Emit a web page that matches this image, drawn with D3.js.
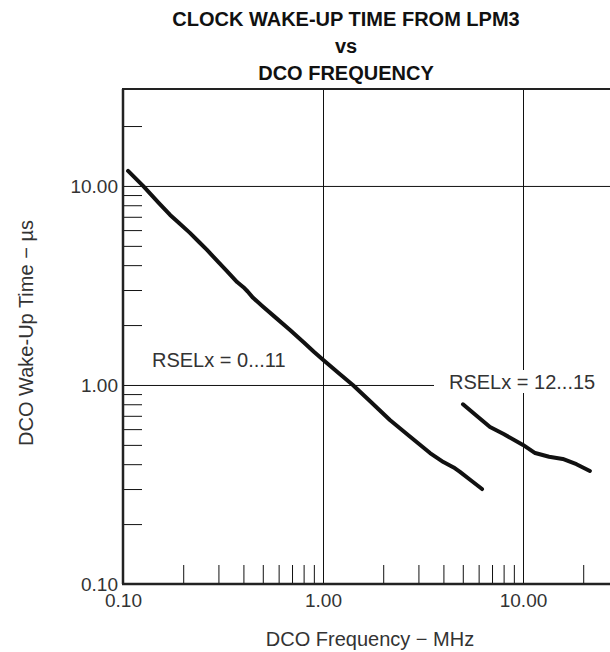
<!DOCTYPE html>
<html>
<head>
<meta charset="utf-8">
<script src="https://cdn.jsdelivr.net/npm/d3@7"></script>
<style>
  body { margin: 0; background: #fff; }
  text { font-family: "Liberation Sans", Arial, sans-serif; }
</style>
</head>
<body>
<div id="chart"></div>
<script>
// data
const freqLow = [0.106, 0.126, 0.15, 0.172, 0.19, 0.216, 0.24, 0.263, 0.30, 0.33, 0.372, 0.40, 0.42, 0.447, 0.50, 0.58, 0.684, 0.80, 0.9, 1.0, 1.2, 1.41, 1.7, 2.16, 2.7, 3.43, 4.0, 4.5, 4.84, 5.5, 6.24];
const timeLow = [11.9, 10.0, 8.28, 7.15, 6.53, 5.81, 5.23, 4.77, 4.14, 3.74, 3.29, 3.10, 2.95, 2.74, 2.48, 2.18, 1.89, 1.64, 1.47, 1.34, 1.145, 1.0, 0.838, 0.667, 0.554, 0.455, 0.41, 0.385, 0.366, 0.331, 0.30];
const freqHigh = [5.01, 5.8, 6.84, 8.0, 10.0, 11.5, 13.5, 15.8, 18.5, 21.6];
const timeHigh = [0.80, 0.706, 0.615, 0.567, 0.50, 0.455, 0.436, 0.425, 0.40, 0.37];

const majorTicks = [0.1, 1, 10];
const xMinorTicks = [0.2, 0.3, 0.4, 0.5, 0.6, 0.7, 0.8, 0.9, 2, 3, 4, 5, 6, 7, 8, 9, 20];
const yMinorTicks = [0.2, 0.3, 0.4, 0.5, 0.6, 0.7, 0.8, 0.9, 2, 3, 4, 5, 6, 7, 8, 9, 20];
const titleLines = ["CLOCK WAKE-UP TIME FROM LPM3", "vs", "DCO FREQUENCY"];

const width = 610, height = 652;
const plotLeft = 123, plotBottom = 584, plotTop = 89;

const svg = d3.select("#chart").append("svg").attr("width", width).attr("height", height);

// log scales, ~200px per decade
const x = d3.scaleLog().domain([0.1, 30]).range([plotLeft, plotLeft + 200 * Math.log10(300)]);
const y = d3.scaleLog().domain([0.1, 30.7]).range([plotBottom, plotTop]);

// grid lines
svg.append("g").attr("transform", `translate(0,${plotBottom})`)
    .call(d3.axisBottom(x).tickValues([1, 10]).tickSize(-(plotBottom - plotTop)).tickFormat(""))
    .call(g => g.select(".domain").remove())
    .selectAll("line").attr("stroke", "#111").attr("stroke-width", 1);
svg.append("g").attr("transform", `translate(${plotLeft},0)`)
    .call(d3.axisLeft(y).tickValues([1, 10]).tickSize(-(width - plotLeft)).tickFormat(""))
    .call(g => g.select(".domain").remove())
    .selectAll("line").attr("stroke", "#111").attr("stroke-width", 1);

// minor ticks pointing inward
svg.append("g").attr("transform", `translate(0,${plotBottom})`)
    .call(d3.axisBottom(x).tickValues(xMinorTicks).tickSize(-19).tickFormat(""))
    .call(g => g.select(".domain").remove())
    .selectAll("line").attr("stroke", "#111").attr("stroke-width", 1);
svg.append("g").attr("transform", `translate(${plotLeft},0)`)
    .call(d3.axisLeft(y).tickValues(yMinorTicks).tickSize(-19).tickFormat(""))
    .call(g => g.select(".domain").remove())
    .selectAll("line").attr("stroke", "#111").attr("stroke-width", 1);

// major tick labels
const fmt = d3.format(".2f");
svg.append("g").attr("transform", `translate(0,${plotBottom})`)
    .call(d3.axisBottom(x).tickValues(majorTicks).tickSize(0).tickPadding(10).tickFormat(fmt))
    .call(g => g.select(".domain").remove())
    .selectAll("text").attr("font-size", 19).attr("fill", "#333")
    .attr("font-family", "Liberation Sans, Arial, sans-serif");
svg.append("g").attr("transform", `translate(${plotLeft},0)`)
    .call(d3.axisLeft(y).tickValues(majorTicks).tickSize(0).tickPadding(5).tickFormat(fmt))
    .call(g => g.select(".domain").remove())
    .selectAll("text").attr("font-size", 19).attr("fill", "#333")
    .attr("font-family", "Liberation Sans, Arial, sans-serif");

// frame
svg.append("line").attr("x1", plotLeft).attr("x2", plotLeft).attr("y1", plotTop).attr("y2", plotBottom)
    .attr("stroke", "#222").attr("stroke-width", 2.5);
svg.append("line").attr("x1", plotLeft - 1).attr("x2", width).attr("y1", plotBottom).attr("y2", plotBottom)
    .attr("stroke", "#222").attr("stroke-width", 2.5);
svg.append("line").attr("x1", plotLeft - 1).attr("x2", width).attr("y1", plotTop).attr("y2", plotTop)
    .attr("stroke", "#222").attr("stroke-width", 2);

// curves
const line = d3.line().x(d => x(d[0])).y(d => y(d[1]));
[[freqLow, timeLow], [freqHigh, timeHigh]].forEach(([fs, ts]) => {
    svg.append("path").datum(fs.map((f, i) => [f, ts[i]]))
        .attr("d", line).attr("fill", "none").attr("stroke", "#111")
        .attr("stroke-width", 4).attr("stroke-linecap", "round").attr("stroke-linejoin", "round");
});

// curve labels
svg.append("text").attr("x", 152).attr("y", 367).attr("font-size", 20).attr("fill", "#333")
    .text("RSELx = 0...11");
svg.append("rect").attr("x", 434).attr("y", 370).attr("width", width - 434).attr("height", 23).attr("fill", "#fff");
svg.append("text").attr("x", 449).attr("y", 389).attr("font-size", 20).attr("fill", "#333")
    .text("RSELx = 12...15");

// title
svg.selectAll(".title").data(titleLines).enter().append("text")
    .attr("x", 346).attr("y", (d, i) => 26 + i * 27)
    .attr("text-anchor", "middle").attr("font-size", 20).attr("font-weight", "bold").attr("fill", "#111")
    .text(d => d);

// axis titles
svg.append("text").attr("x", 370).attr("y", 646).attr("text-anchor", "middle")
    .attr("font-size", 20).attr("fill", "#333").text("DCO Frequency − MHz");
svg.append("text").attr("transform", "translate(33,333) rotate(-90)").attr("text-anchor", "middle")
    .attr("font-size", 20).attr("fill", "#333").text("DCO Wake-Up Time − µs");
</script>
</body>
</html>
